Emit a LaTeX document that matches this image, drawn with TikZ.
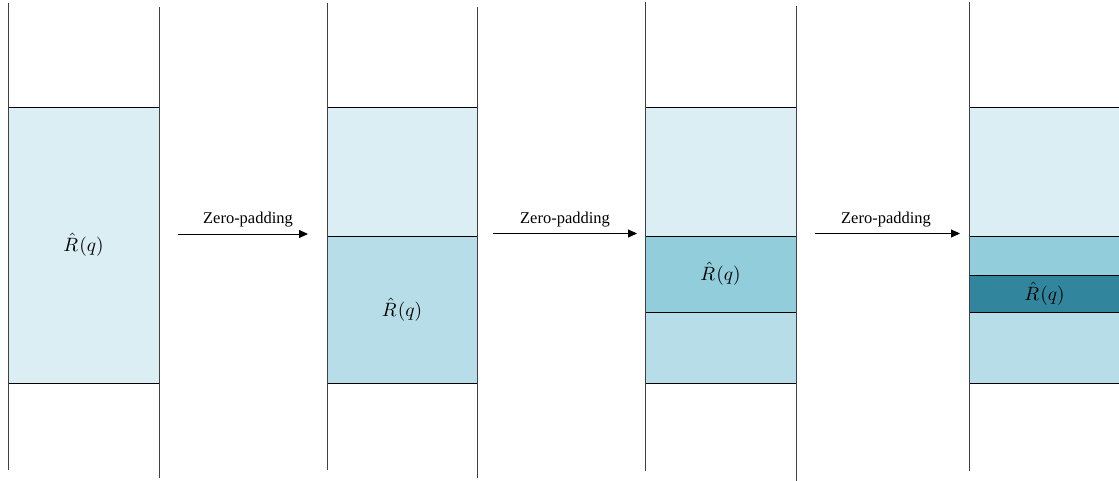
\documentclass[tikz,border=0pt]{standalone}
\usepackage{graphicx}
\usepackage{fontspec}
\setmainfont{Liberation Serif}
\usetikzlibrary{arrows.meta}
\definecolor{cA}{HTML}{DAEEF3}
\definecolor{cB}{HTML}{B7DEE8}
\definecolor{cC}{HTML}{92CDDC}
\definecolor{cD}{HTML}{31859C}
\definecolor{linec}{HTML}{404040}
\tikzset{
  blk/.style={draw=black, line width=0.8pt, rectangle, inner sep=0pt},
  vline/.style={draw=linec, line width=1pt},
  zarrow/.style={draw=black, line width=0.9pt, -{Triangle[length=9pt,width=8pt]}},
  zlabel/.style={font=\fontsize{16.5}{19}\selectfont, inner sep=0pt, anchor=base}
}
\newcommand{\Rq}{\scalebox{1.93}{$\hat{R}\mskip1mu(q)$}}
\begin{document}
\begin{tikzpicture}[x=1pt,y=-1pt]
\useasboundingbox (0,0) rectangle (1119,481);
\clip (0,0) rectangle (1119,481);
% column 1
\node[blk, fill=cA, minimum width=151pt, minimum height=276pt] (b1) at (83.5,245) {\Rq};
% column 2
\node[blk, fill=cA, minimum width=150pt, minimum height=129pt] (b2t) at (402,171.5) {};
\node[blk, fill=cB, minimum width=150pt, minimum height=147pt] (b2b) at (402,309.5) {\Rq};
% column 3
\node[blk, fill=cA, minimum width=151pt, minimum height=129pt] (b3t) at (720.5,171.5) {};
\node[blk, fill=cC, minimum width=151pt, minimum height=76pt] (b3m) at (720.5,274) {\Rq};
\node[blk, fill=cB, minimum width=151pt, minimum height=71pt] (b3b) at (720.5,347.5) {};
% column 4
\node[blk, fill=cA, minimum width=151pt, minimum height=129pt] (b4t) at (1044.5,171.5) {};
\node[blk, fill=cC, minimum width=151pt, minimum height=39pt] (b4m) at (1044.5,255.5) {};
\node[blk, fill=cD, minimum width=151pt, minimum height=37pt] (b4d) at (1044.5,293.5) {\Rq};
\node[blk, fill=cB, minimum width=151pt, minimum height=71pt] (b4b) at (1044.5,347.5) {};
% vertical lines
\coordinate (l1a) at (8,3);   \coordinate (l1b) at (8,470);
\coordinate (r1a) at (159,7); \coordinate (r1b) at (159,478);
\coordinate (l2a) at (327,3); \coordinate (l2b) at (327,470);
\coordinate (r2a) at (477,7); \coordinate (r2b) at (477,478);
\coordinate (l3a) at (645.5,2); \coordinate (l3b) at (645.5,471);
\coordinate (r3a) at (796,6); \coordinate (r3b) at (796,481);
\coordinate (l4a) at (969,2); \coordinate (l4b) at (969,471);
\draw[vline] (l1a) -- (l1b);
\draw[vline] (r1a) -- (r1b);
\draw[vline] (l2a) -- (l2b);
\draw[vline] (r2a) -- (r2b);
\draw[vline] (l3a) -- (l3b);
\draw[vline] (r3a) -- (r3b);
\draw[vline] (l4a) -- (l4b);
% arrows
\coordinate (a1s) at (178,234); \coordinate (a1e) at (308,234);
\coordinate (a2s) at (493,233.5); \coordinate (a2e) at (637,233.5);
\coordinate (a3s) at (815,233.5); \coordinate (a3e) at (960,233.5);
\draw[zarrow] (a1s) -- (a1e);
\draw[zarrow] (a2s) -- (a2e);
\draw[zarrow] (a3s) -- (a3e);
\node[zlabel] (t1) at (248,224) {Zero-padding};
\node[zlabel] (t2) at (565,224) {Zero-padding};
\node[zlabel] (t3) at (886,224) {Zero-padding};
\end{tikzpicture}
\end{document}
